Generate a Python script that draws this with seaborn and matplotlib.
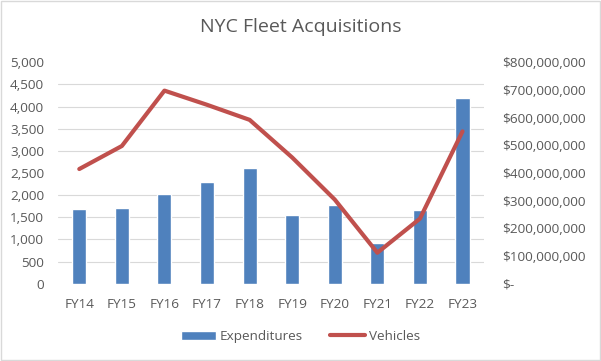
import numpy as np
import pandas as pd
import seaborn as sns
import matplotlib.pyplot as plt
from matplotlib.patches import Rectangle
from matplotlib.ticker import FuncFormatter

years = ["FY14", "FY15", "FY16", "FY17", "FY18", "FY19", "FY20", "FY21", "FY22", "FY23"]
expenditures = [269e6, 273e6, 324e6, 367e6, 418e6, 248e6, 284e6, 147e6, 266e6, 670e6]
vehicles = [2590, 3110, 4360, 4040, 3700, 2850, 1900, 700, 1470, 3440]

bar_color = "#4F81BD"
line_color = "#C0504D"
text_color = "#595959"

sns.set_style("white")
plt.rcParams["font.family"] = ["Open Sans", "DejaVu Sans"]

df = pd.DataFrame({"year": years, "Expenditures": expenditures, "Vehicles": vehicles})

fig = plt.figure(figsize=(6.01, 3.61), dpi=100)
ax = fig.add_axes([0.0965, 0.214, 0.7085, 0.6135])
ax2 = ax.twinx()

# bars on the right ($) axis, kept behind the line
sns.barplot(data=df, x="year", y="Expenditures", ax=ax2, color=bar_color,
            saturation=1, width=0.33, label="Expenditures")
sns.lineplot(data=df, x="year", y="Vehicles", ax=ax, color=line_color,
             linewidth=3, sort=False, label="Vehicles")

ax.set_zorder(2)
ax2.set_zorder(1)
ax.patch.set_visible(False)

ax.set_xlim(-0.5, 9.5)
ax.set_ylim(0, 5000)
ax.set_yticks(np.arange(0, 5001, 500))
ax.yaxis.set_major_formatter(FuncFormatter(lambda v, p: f"{int(v):,}"))
ax2.set_ylim(0, 800e6)
ax2.set_yticks(np.arange(0, 800e6 + 1, 100e6))
ax2.yaxis.set_major_formatter(
    FuncFormatter(lambda v, p: "$-" if v == 0 else f"${int(v):,}"))

# gridlines at the left-axis steps, drawn behind the bars
ax2.set_yticks(np.arange(0, 800e6 + 1, 80e6), minor=True)
ax2.grid(which="minor", color="#D9D9D9", linewidth=0.8)
ax2.set_axisbelow(True)
ax.grid(False)

for a in (ax, ax2):
    a.set_xlabel("")
    a.set_ylabel("")
    for s in a.spines.values():
        s.set_visible(False)
    a.tick_params(which="both", length=0, colors=text_color, labelsize=9.7)
ax.tick_params(axis="y", pad=10)
ax2.tick_params(axis="y", pad=13)
ax.tick_params(axis="x", pad=10)

if ax.get_legend():
    ax.get_legend().remove()
if ax2.get_legend():
    ax2.get_legend().remove()
h1, l1 = ax2.get_legend_handles_labels()
h2, l2 = ax.get_legend_handles_labels()
fig.legend(h1 + h2, l1 + l2, loc="center", bbox_to_anchor=(0.5, 0.068), ncol=2,
           frameon=False, fontsize=9.7, labelcolor=text_color, handlelength=2.6,
           handletextpad=0.3, columnspacing=2.0)

fig.text(0.5, 0.925, "NYC Fleet Acquisitions", ha="center", va="center",
         fontsize=14, color=text_color)

fig.patches.append(Rectangle((0.001, 0.002), 0.997, 0.995, transform=fig.transFigure,
                             fill=False, edgecolor="#D9D9D9", linewidth=1))

fig.savefig("out.png", dpi=100)
